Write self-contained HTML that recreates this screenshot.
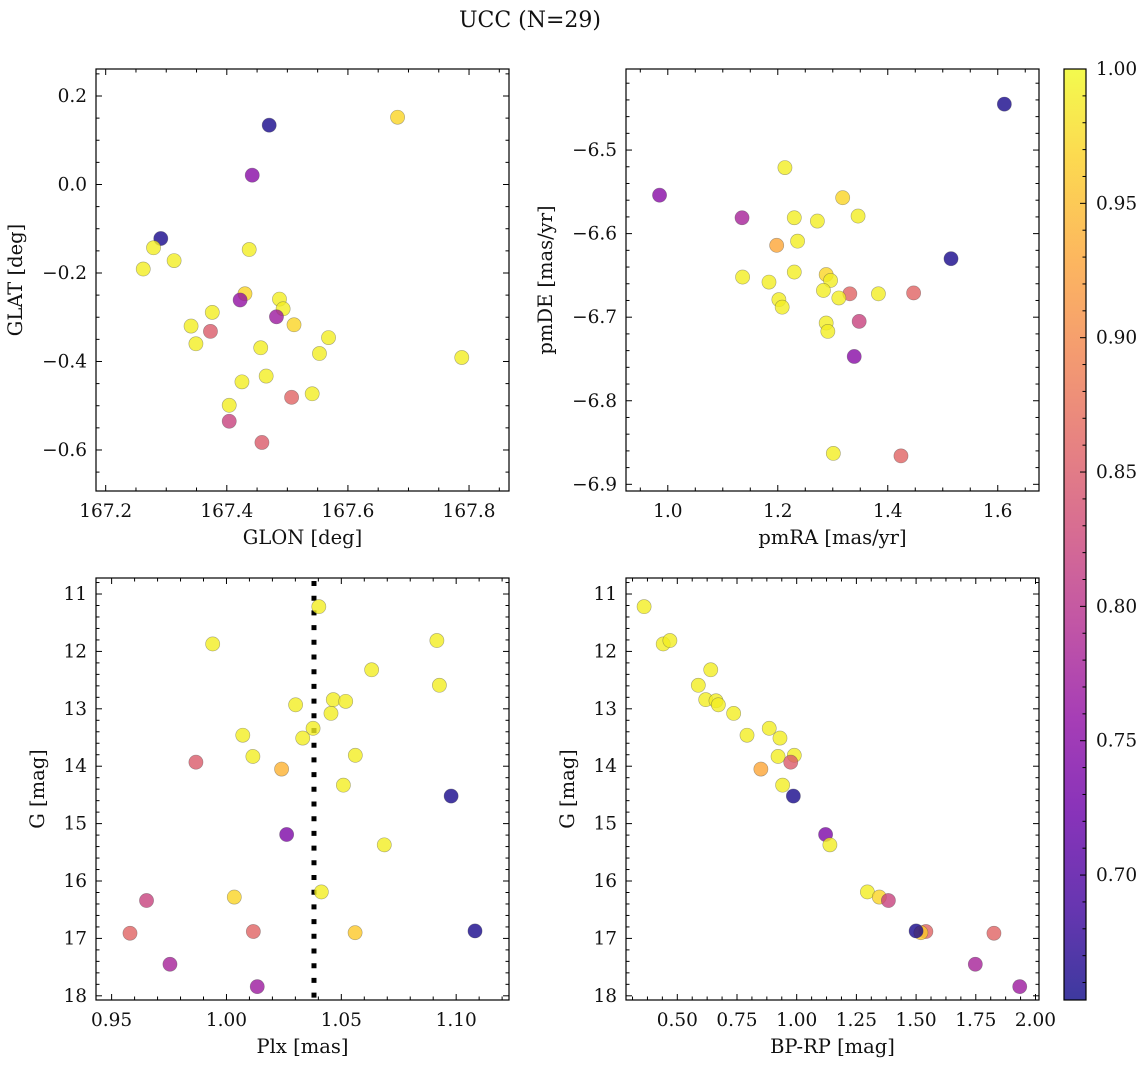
<!DOCTYPE html>
<html><head><meta charset="utf-8"><style>
html,body{margin:0;padding:0;background:#fff;}
svg{display:block;font-family:"DejaVu Serif","Liberation Serif",serif;}
</style></head><body>
<svg id="fig" width="1148" height="1068" viewBox="0 0 1148 1068" xmlns="http://www.w3.org/2000/svg">
<defs>
<linearGradient id="cbgrad" x1="0" y1="1" x2="0" y2="0">
<stop offset="0" stop-color="#0d0887"/><stop offset="0.1" stop-color="#41049d"/><stop offset="0.2" stop-color="#6a00a8"/><stop offset="0.3" stop-color="#8f0da4"/><stop offset="0.4" stop-color="#b12a90"/><stop offset="0.5" stop-color="#cc4778"/><stop offset="0.6" stop-color="#e16462"/><stop offset="0.7" stop-color="#f2844b"/><stop offset="0.8" stop-color="#fca636"/><stop offset="0.9" stop-color="#fcce25"/><stop offset="1" stop-color="#f0f921"/>
</linearGradient>
</defs>
<text x="530" y="27" font-size="22" text-anchor="middle" fill="#111">UCC (N=29)</text>
</svg>
<script>
// ---- Panel 1: GLON vs GLAT ----
const p1Glon=[167.470,167.682,167.442,167.291,167.279,167.313,167.262,167.437,167.430,167.422,167.487,167.493,167.482,167.511,167.376,167.341,167.373,167.349,167.568,167.456,167.553,167.788,167.465,167.425,167.541,167.507,167.404,167.404,167.458];
const p1Glat=[0.134,0.152,0.021,-0.122,-0.143,-0.172,-0.191,-0.147,-0.247,-0.261,-0.259,-0.281,-0.299,-0.317,-0.289,-0.320,-0.332,-0.360,-0.346,-0.369,-0.382,-0.391,-0.433,-0.446,-0.473,-0.481,-0.499,-0.535,-0.583];
const p1Prob=[0.66,0.97,0.75,0.66,0.99,0.99,0.99,0.99,0.97,0.76,0.99,0.99,0.77,0.97,0.99,0.99,0.85,0.99,0.99,0.99,0.99,0.99,0.99,0.99,0.99,0.86,0.99,0.82,0.85];
const p1XTicks=[167.2,167.4,167.6,167.8];
const p1YTicks=[-0.6,-0.4,-0.2,0.0,0.2];
// ---- Panel 2: pmRA vs pmDE ----
const p2PmRA=[1.612,0.985,1.213,1.318,1.135,1.230,1.272,1.346,1.198,1.236,1.515,1.136,1.230,1.184,1.288,1.296,1.283,1.331,1.311,1.383,1.447,1.202,1.208,1.288,1.291,1.348,1.339,1.301,1.424];
const p2PmDE=[-6.445,-6.554,-6.521,-6.557,-6.581,-6.581,-6.585,-6.579,-6.614,-6.609,-6.630,-6.652,-6.646,-6.658,-6.649,-6.656,-6.668,-6.672,-6.677,-6.672,-6.671,-6.679,-6.688,-6.707,-6.717,-6.705,-6.747,-6.863,-6.866];
const p2Prob=[0.66,0.75,0.99,0.97,0.78,0.99,0.99,0.99,0.93,0.99,0.66,0.99,0.99,0.99,0.97,0.99,0.99,0.86,0.99,0.99,0.86,0.99,0.99,0.99,0.99,0.82,0.75,0.99,0.86];
const p2XTicks=[1.0,1.2,1.4,1.6];
const p2YTicks=[-6.9,-6.8,-6.7,-6.6,-6.5];
// ---- Panel 3: Plx vs G ----
const p3Plx=[1.0402,0.994,1.0916,1.0632,1.0927,1.0301,1.0465,1.0519,1.0455,1.0377,1.0332,1.0071,1.0115,1.0561,0.9867,1.024,1.0509,1.0978,1.0262,1.0687,1.0413,1.0034,0.9652,0.958,1.0117,1.056,1.1082,0.9754,1.0134];
const p3G=[11.22,11.87,11.81,12.32,12.59,12.93,12.84,12.87,13.08,13.34,13.51,13.46,13.83,13.81,13.93,14.05,14.33,14.52,15.19,15.37,16.19,16.28,16.34,16.91,16.88,16.90,16.87,17.45,17.84];
const p3Prob=[0.99,0.99,0.99,0.99,0.99,0.99,0.99,0.99,0.99,0.99,0.99,0.99,0.99,0.99,0.85,0.94,0.99,0.66,0.74,0.99,0.99,0.97,0.82,0.86,0.86,0.96,0.66,0.78,0.77];
const p3XTicks=[0.95,1.00,1.05,1.10];
const p3YTicks=[11,12,13,14,15,16,17,18];
const p3MedianPlx=1.0381;
// ---- Panel 4: BP-RP vs G ----
const p4BpRp=[0.361,0.441,0.469,0.640,0.588,0.619,0.662,0.672,0.736,0.792,0.885,0.930,0.922,0.990,0.975,0.850,0.941,0.986,1.121,1.139,1.296,1.346,1.384,1.826,1.541,1.520,1.500,1.748,1.934];
const p4G=[11.22,11.87,11.81,12.32,12.59,12.84,12.86,12.93,13.08,13.46,13.34,13.51,13.83,13.81,13.93,14.05,14.33,14.52,15.19,15.37,16.19,16.28,16.34,16.91,16.88,16.90,16.87,17.45,17.84];
const p4Prob=[0.99,0.99,0.99,0.99,0.99,0.99,0.99,0.99,0.99,0.99,0.99,0.99,0.99,0.99,0.85,0.93,0.99,0.66,0.74,0.99,0.99,0.97,0.82,0.86,0.86,0.96,0.66,0.78,0.77];
const p4XTicks=[0.50,0.75,1.00,1.25,1.50,1.75,2.00];
const p4YTicks=[11,12,13,14,15,16,17,18];
// ---- Colorbar ----
const cbTicks=[0.70,0.75,0.80,0.85,0.90,0.95,1.00];
const cbMin=0.6535, cbMax=1.0;

const NS="http://www.w3.org/2000/svg";
const svg=document.getElementById('fig');
const FS=18.5, LFS=19.5;
function mk(tag,attrs,parent){const e=document.createElementNS(NS,tag);for(const k in attrs)e.setAttribute(k,attrs[k]);(parent||svg).appendChild(e);return e;}
const plasma=[[13,8,135],[65,4,157],[106,0,168],[143,13,164],[177,42,144],[204,71,120],[225,100,98],[242,132,75],[252,166,54],[252,206,37],[240,249,33]];
function cmap(v){let t=(v-cbMin)/(cbMax-cbMin);t=Math.max(0,Math.min(1,t))*10;const i=Math.min(9,Math.floor(t)),f=t-i;const a=plasma[i],b=plasma[i+1];return 'rgb('+a.map((c,k)=>Math.round(c+(b[k]-c)*f)).join(',')+')';}
function lin(d0,d1,r0,r1){return v=>r0+(v-d0)/(d1-d0)*(r1-r0);}
function fmt(v,dec){const s=Math.abs(v).toFixed(dec);return (v<-1e-9?'\u2212':'')+s;}

function panel(cfg){
  const g=mk('g',{});
  
  
  const {x0,x1,y0,y1}=cfg;
  const sx=lin(cfg.xd[0],cfg.xd[1],x0,x1), sy=lin(cfg.yd[0],cfg.yd[1],y1,y0);
  const tg=mk('g',{stroke:'#000','stroke-width':1},g);
  
  
  function ticksAxis(ticks,minorDiv,dom,isX){
    const base=Math.min(...ticks);
    const step=Math.abs(ticks[1]-ticks[0]);const ms=step/minorDiv;
    const lo=Math.min(dom[0],dom[1]),hi=Math.max(dom[0],dom[1]);
    const start=Math.ceil((lo-base)/ms-1e-6);
    for(let k=start,n=0;n<1000;k++,n++){const v=base+k*ms;if(v>hi+1e-9)break;
      const major=(((k%minorDiv)+minorDiv)%minorDiv)===0;const L=major?6:3.5;
      if(isX){const p=sx(v);mk('line',{x1:p,x2:p,y1:y1,y2:y1-L},tg);mk('line',{x1:p,x2:p,y1:y0,y2:y0+L},tg);}
      else{const p=sy(v);mk('line',{x1:x0,x2:x0+L,y1:p,y2:p},tg);mk('line',{x1:x1,x2:x1-L,y1:p,y2:p},tg);}
    }
  }
  ticksAxis(cfg.xt,cfg.xm,cfg.xd,true);
  ticksAxis(cfg.yt,cfg.ym,cfg.yd,false);
  cfg.xt.forEach(v=>{const t=mk('text',{x:sx(v),y:y1+26,'font-size':FS,'text-anchor':'middle',fill:'#111'},g);t.textContent=fmt(v,cfg.xdec);
    
    });
  cfg.yt.forEach(v=>{const t=mk('text',{x:x0-9,y:sy(v)+6,'font-size':FS,'text-anchor':'end',fill:'#111'},g);t.textContent=fmt(v,cfg.ydec);
    
    });
  const xl=mk('text',{x:(x0+x1)/2,y:y1+53,'font-size':LFS,'text-anchor':'middle',fill:'#111'},g);xl.textContent=cfg.xlabel;
  
  
  const yl=mk('text',{x:0,y:0,'font-size':LFS,'text-anchor':'middle',fill:'#111',transform:'translate('+cfg.ylx+','+((y0+y1)/2)+') rotate(-90)'},g);yl.textContent=cfg.ylabel;
  
  
  if(cfg.extra)cfg.extra(g,sx,sy);
  const pg=mk('g',{},g);
  
  
  cfg.xs.forEach((xv,i)=>{const c=mk('circle',{cx:sx(xv),cy:sy(cfg.ys[i]),r:7.1,fill:cmap(cfg.cs[i]),'fill-opacity':0.8,stroke:'#444','stroke-opacity':0.45,'stroke-width':0.6},pg);
    
    });
  const fr=mk('rect',{x:x0,y:y0,width:x1-x0,height:y1-y0,fill:'none',stroke:'#000','stroke-width':1.2},g);
  
  
}

panel({name:'glon-glat-panel',x0:96,x1:509,y0:69,y1:491,xd:[167.184,167.866],yd:[-0.6927,0.261],xt:p1XTicks,yt:p1YTicks,xm:4,ym:4,xdec:1,ydec:1,xlabel:'GLON [deg]',ylabel:'GLAT [deg]',ylx:22,xs:p1Glon,ys:p1Glat,cs:p1Prob});
panel({name:'pm-panel',x0:626,x1:1039,y0:69,y1:491,xd:[0.924,1.675],yd:[-6.908,-6.403],xt:p2XTicks,yt:p2YTicks,xm:4,ym:5,xdec:1,ydec:1,xlabel:'pmRA [mas/yr]',ylabel:'pmDE [mas/yr]',ylx:552,xs:p2PmRA,ys:p2PmDE,cs:p2Prob});
panel({name:'plx-g-panel',x0:96,x1:509,y0:578,y1:1000,xd:[0.9432,1.123],yd:[18.073,10.721],xt:p3XTicks,yt:p3YTicks,xm:5,ym:5,xdec:2,ydec:0,xlabel:'Plx [mas]',ylabel:'G [mag]',ylx:44,xs:p3Plx,ys:p3G,cs:p3Prob,
  extra:(g,sx,sy)=>{const l=mk('line',{x1:sx(p3MedianPlx),x2:sx(p3MedianPlx),y1:581,y2:1000,stroke:'#000','stroke-width':5,'stroke-dasharray':'5 9.7'},g);
    
    }});
panel({name:'cmd-panel',x0:626,x1:1039,y0:578,y1:1000,xd:[0.2852,2.0147],yd:[18.073,10.721],xt:p4XTicks,yt:p4YTicks,xm:4,ym:5,xdec:2,ydec:0,xlabel:'BP-RP [mag]',ylabel:'G [mag]',ylx:574,xs:p4BpRp,ys:p4G,cs:p4Prob});

(function(){
  const g=mk('g',{});
  
  
  const X0=1064,X1=1086,Y0=69,Y1=1000;
  const sy=lin(cbMin,cbMax,Y1,Y0);
  const r=mk('rect',{x:X0,y:Y0,width:X1-X0,height:Y1-Y0,fill:'url(#cbgrad)','fill-opacity':0.8},g);
  
  
  for(let k=0;k<100;k++){const v=cbMax-k*0.01;if(v<cbMin)break;const major=k%5===0;const p=sy(v);
    mk('line',{x1:X1,x2:X1-(major?6:3.5),y1:p,y2:p,stroke:'#000','stroke-width':1},g);}
  cbTicks.forEach(v=>{const t=mk('text',{x:X1+10,y:sy(v)+6,'font-size':FS,fill:'#111'},g);t.textContent=v.toFixed(2);
    
    });
  mk('rect',{x:X0,y:Y0,width:X1-X0,height:Y1-Y0,fill:'none',stroke:'#000','stroke-width':1.2},g);
})();
</script>
</body></html>
